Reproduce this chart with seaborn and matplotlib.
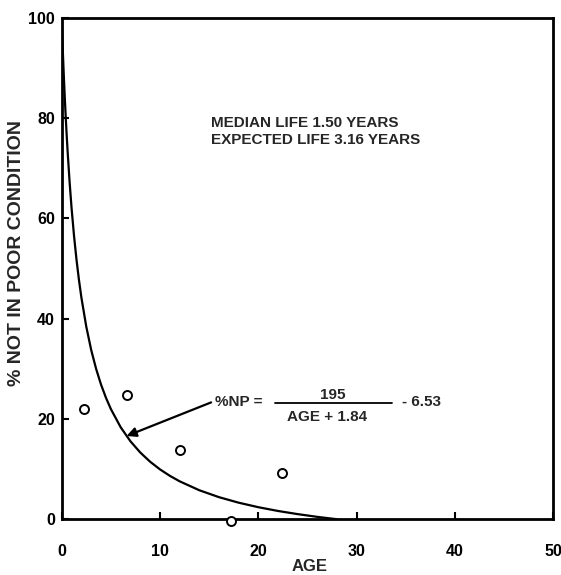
import matplotlib
matplotlib.use("Agg")
import matplotlib.pyplot as plt
import seaborn as sns

# fitted curve (%NP = 195 / (AGE + 1.84) - 6.53)
curve_age = [0, 0.1, 0.2, 0.3, 0.4, 0.5, 0.6, 0.8, 1.0, 1.25, 1.5, 1.75, 2, 2.5,
             3, 3.5, 4, 4.5, 5, 6, 7, 8, 9, 10, 11, 12, 14, 16, 18, 20, 22,
             24, 26, 28]
curve_pct = [99.45, 93.99, 89.06, 84.59, 80.52, 76.80, 73.39, 67.33, 62.13,
             56.58, 51.85, 47.79, 44.25, 38.40, 33.76, 29.99, 26.86, 24.23,
             21.98, 18.34, 15.53, 13.29, 11.46, 9.94, 8.66, 7.56, 5.78, 4.40,
             3.30, 2.40, 1.65, 1.02, 0.47, 0.00]

# observed points
obs_age = [2.3, 6.6, 12.0, 17.2, 22.4]
obs_pct = [22.0, 24.8, 13.9, -0.4, 9.3]

x_ticks = [0, 10, 20, 30, 40, 50]
y_ticks = [0, 20, 40, 60, 80, 100]

sns.set_style("ticks")
plt.rcParams['font.family'] = ['Liberation Sans', 'DejaVu Sans']
plt.rcParams['font.weight'] = 'bold'

fig = plt.figure(figsize=(5.61, 5.75), dpi=100)
ax = fig.add_axes([0.110, 0.097, 0.876, 0.872])

sns.lineplot(x=curve_age, y=curve_pct, ax=ax, color='black', linewidth=1.6,
             sort=False)
sns.scatterplot(x=obs_age, y=obs_pct, ax=ax, marker='o', s=42, color='white',
                edgecolor='black', linewidth=1.4, clip_on=False, zorder=3)

ax.set_xlim(0, 50)
ax.set_ylim(0, 100)
ax.set_xticks(x_ticks)
ax.set_yticks(y_ticks)
ax.tick_params(axis='both', direction='in', length=5, width=1.5,
               labelsize=11.5, colors='black')
ax.tick_params(axis='x', pad=18)
ax.tick_params(axis='y', pad=5)
for lbl in ax.get_xticklabels() + ax.get_yticklabels():
    lbl.set_fontweight('bold')
for side in ['left', 'right', 'top', 'bottom']:
    ax.spines[side].set_visible(True)
    ax.spines[side].set_linewidth(2)
    ax.spines[side].set_color('black')

ax.set_xlabel('AGE', fontsize=12, fontweight='bold')
ax.xaxis.set_label_coords(0.505, -0.080)
ax.set_ylabel('% NOT IN POOR CONDITION', fontsize=14, fontweight='bold')
ax.yaxis.set_label_coords(-0.075, 0.53)

ax.text(15.2, 79.0, 'MEDIAN LIFE 1.50 YEARS', fontsize=11,
        fontweight='bold', va='center')
ax.text(15.2, 75.6, 'EXPECTED LIFE 3.16 YEARS', fontsize=11,
        fontweight='bold', va='center')

# equation label
ax.text(15.6, 23.3, '%NP =', fontsize=11, fontweight='bold', va='center')
ax.plot([21.7, 33.6], [23.2, 23.2], color='black', linewidth=1.3)
ax.text(27.6, 23.4, '195', fontsize=11, fontweight='bold', ha='center',
        va='bottom')
ax.text(27.0, 20.4, 'AGE + 1.84', fontsize=11, fontweight='bold',
        ha='center', va='center')
ax.text(34.6, 23.3, '- 6.53', fontsize=11, fontweight='bold', va='center')
ax.annotate('', xy=(6.6, 16.6), xytext=(15.2, 23.3),
            arrowprops=dict(arrowstyle='-|>', color='black', lw=1.6,
                            mutation_scale=14, shrinkA=0, shrinkB=0))

fig.savefig('out.png', dpi=100)
